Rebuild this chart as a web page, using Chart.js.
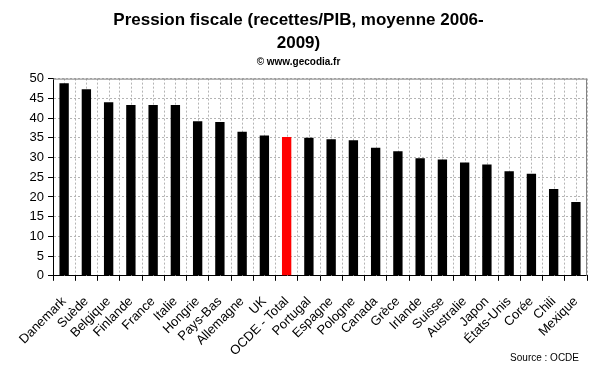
<!DOCTYPE html>
<html>
<head>
<meta charset="utf-8">
<script src="https://cdn.jsdelivr.net/npm/chart.js@4"></script>
<style>
  html, body { margin: 0; padding: 0; background: #fff; }
  #wrap { width: 600px; height: 372px; }
</style>
</head>
<body>
<div id="wrap"><canvas id="myChart"></canvas></div>
<script>
// DATA
const countries = ['Danemark', 'Suède', 'Belgique', 'Finlande', 'France', 'Italie', 'Hongrie', 'Pays-Bas',
    'Allemagne', 'UK', 'OCDE - Total', 'Portugal', 'Espagne', 'Pologne', 'Canada', 'Grèce', 'Irlande',
    'Suisse', 'Australie', 'Japon', 'États-Unis', 'Corée', 'Chili', 'Mexique'];
const taxRatio = [48.8, 47.3, 44.0, 43.3, 43.3, 43.3, 39.2, 39.0, 36.5, 35.6, 35.2, 35.0, 34.6, 34.4,
    32.5, 31.6, 29.8, 29.5, 28.7, 28.2, 26.5, 25.9, 22.0, 18.7];
const yTicks = [0, 5, 10, 15, 20, 25, 30, 35, 40, 45, 50];
const highlight = 'OCDE - Total';
const sourceText = 'Source : OCDE';

// COLORS
const barColors = countries.map(c => c === highlight ? '#ff0000' : '#000000');
const FONT = 'Liberation Sans, Arial, sans-serif';

// PLUGIN: dotted lines at the middle of each category + grey frame + source
const extraGrid = {
    id: 'extraGrid',
    beforeDatasetsDraw(chart) {
        const ctx = chart.ctx;
        const x = chart.scales.x;
        const area = chart.chartArea;
        ctx.save();
        ctx.strokeStyle = '#b4b4b4';
        ctx.lineWidth = 1;
        ctx.setLineDash([2, 2]);
        countries.forEach((c, i) => {
            const px = Math.round(x.getPixelForValue(i)) + 0.5;
            ctx.beginPath();
            ctx.moveTo(px, area.top);
            ctx.lineTo(px, area.bottom);
            ctx.stroke();
        });
        ctx.setLineDash([]);
        ctx.strokeStyle = '#808080';
        ctx.beginPath();
        ctx.moveTo(area.left, area.top + 0.5);
        ctx.lineTo(area.right - 0.5, area.top + 0.5);
        ctx.lineTo(area.right - 0.5, area.bottom);
        ctx.stroke();
        ctx.restore();
    },
    afterDraw(chart) {
        const ctx = chart.ctx;
        ctx.save();
        ctx.font = '10px ' + FONT;
        ctx.fillStyle = '#000';
        ctx.textAlign = 'right';
        ctx.textBaseline = 'middle';
        ctx.fillText(sourceText, chart.width - 21, chart.height - 14);
        ctx.restore();
    }
};

const ctx = document.getElementById('myChart').getContext('2d');
const myChart = new Chart(ctx, {
    type: 'bar',
    data: {
        labels: countries,
        datasets: [{
            label: 'Pression fiscale',
            data: taxRatio,
            backgroundColor: barColors,
            borderWidth: 0,
            barPercentage: 0.42,
            categoryPercentage: 1
        }]
    },
    options: {
        responsive: true,
        maintainAspectRatio: false,
        animation: false,
        layout: { padding: { left: 0, right: 3, top: 8, bottom: 0 } },
        plugins: {
            legend: { display: false },
            tooltip: { enabled: false },
            title: {
                display: true,
                text: ['Pression fiscale (recettes/PIB, moyenne 2006-', '2009)'],
                color: '#000',
                font: { family: FONT, size: 17, weight: 'bold', lineHeight: 1.4 },
                padding: { top: 0, bottom: 0 }
            },
            subtitle: {
                display: true,
                text: '© www.gecodia.fr',
                color: '#000',
                font: { family: FONT, size: 10, weight: 'bold', lineHeight: 1.3 },
                padding: { top: 0, bottom: 10 }
            }
        },
        scales: {
            x: {
                offset: true,
                grid: {
                    offset: true,
                    color: '#b4b4b4',
                    tickColor: '#000',
                    tickLength: 5,
                    tickBorderDash: [],
                    drawOnChartArea: true
                },
                border: { display: true, color: '#000', width: 1, dash: [2, 2] },
                ticks: {
                    color: '#000',
                    autoSkip: false,
                    maxRotation: 45,
                    minRotation: 45,
                    padding: 13,
                    font: { family: FONT, size: 13 }
                }
            },
            y: {
                min: 0,
                max: 50,
                afterFit(scale) { scale.width = 53; },
                afterBuildTicks(scale) { scale.ticks = yTicks.map(v => ({ value: v })); },
                grid: {
                    color: '#b4b4b4',
                    tickColor: '#000',
                    tickLength: 5,
                    tickBorderDash: []
                },
                border: { display: true, color: '#000', width: 1, dash: [2, 2] },
                ticks: {
                    color: '#000',
                    padding: 4,
                    font: { family: FONT, size: 13 }
                }
            }
        }
    },
    plugins: [extraGrid]
});
</script>
</body>
</html>
